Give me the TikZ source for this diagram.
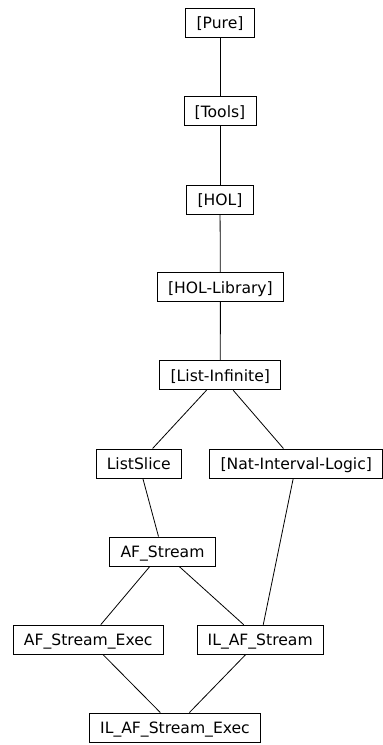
\documentclass[tikz,border=0pt]{standalone}
\usepackage{fontspec}
\setmainfont{DejaVu Sans}
\begin{document}
\begin{tikzpicture}[
            x=1bp, y=-1bp,
            font=\fontsize{15.6bp}{18bp}\selectfont,
            thy/.style  ={draw, line width=0.8bp, inner xsep=10.8bp, inner ysep=0pt,
                          minimum height=29bp, text height=13bp, text depth=1.4bp},
            dep/.style  ={line width=0.8bp}
        ]
        \useasboundingbox (0,0) rectangle (382,745);
        %% --- session chain -----------------------------------------------------
        \node[thy] (pure)    at (220,23)    {[Pure]};
        \node[thy] (tools)   at (220,111.2) {[Tools]};
        \node[thy] (hol)     at (220,199.4) {[HOL]};
        \node[thy] (hollib)  at (220.4,287.2) {[HOL-Library]};
        \node[thy] (listinf) at (220.3,375.3) {[List-Infinite]};
        %% --- theories ----------------------------------------------------------
        \node[thy] (slice)   at (138.8,463.4) {ListSlice};
        \node[thy] (natil)   at (296.3,463.4) {[Nat-Interval-Logic]};
        \node[thy] (afs)     at (162.5,551.4) {AF\_Stream};
        \node[thy] (afsx)    at (88.2,639.6)  {AF\_Stream\_Exec};
        \node[thy] (ilafs)   at (260.2,639.6) {IL\_AF\_Stream};
        \node[thy] (ilafsx)  at (175,727.4)   {IL\_AF\_Stream\_Exec};
        %% --- dependencies ------------------------------------------------------
        \foreach \a/\b in {pure/tools, tools/hol, hol/hollib, hollib/listinf,
                           listinf/slice, listinf/natil, slice/afs, natil/ilafs,
                           afs/afsx, afs/ilafs, afsx/ilafsx, ilafs/ilafsx} {
                \draw[dep] (\a) -- (\b);
            }
    \end{tikzpicture}
\end{document}
